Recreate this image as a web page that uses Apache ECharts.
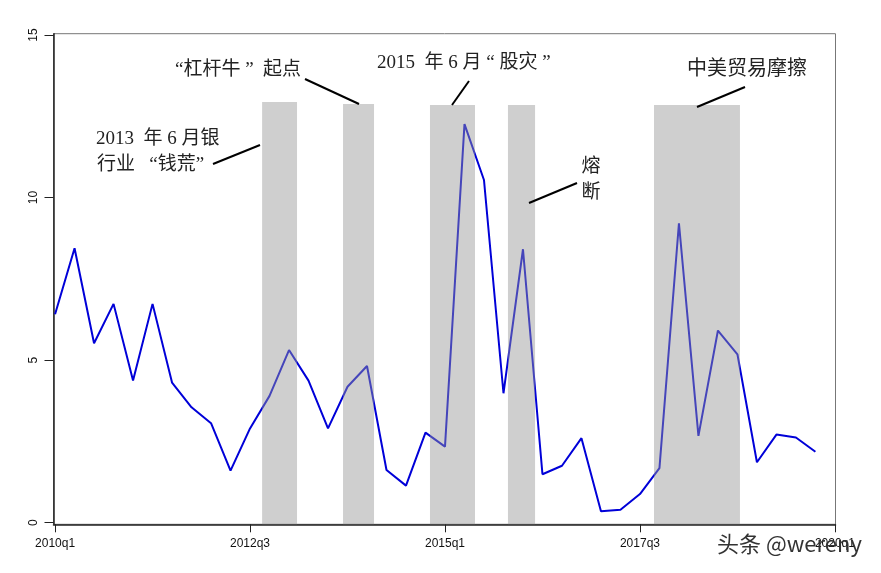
<!DOCTYPE html>
<html>
<head>
<meta charset="utf-8">
<script src="https://cdn.jsdelivr.net/npm/echarts@6/dist/echarts.min.js"></script>
<style>
html, body { margin: 0; padding: 0; background: #fff; }
#chart { width: 881px; height: 573px; }
</style>
</head>
<body>
<div id="chart"></div>
<script>
// quarters counted from 2010q1
var xTicks = [0, 10, 20, 30, 40]
var xTickLabels = ['2010q1', '2012q3', '2015q1', '2017q3', '2020q1']
var yTicks = [0, 5, 10, 15]

var values = [6.41, 8.44, 5.52, 6.73, 4.37, 6.73, 4.31, 3.55, 3.06, 1.6,
  2.9, 3.9, 5.31, 4.37, 2.9, 4.18, 4.82, 1.62, 1.14, 2.77,
  2.34, 12.26, 10.54, 3.98, 8.41, 1.49, 1.75, 2.6, 0.35, 0.4,
  0.88, 1.68, 9.21, 2.67, 5.91, 5.18, 1.86, 2.71, 2.62, 2.18]

// grey event bands, in quarters
var bandStart = [10.62, 14.77, 19.23, 23.23, 30.72]
var bandEnd = [12.41, 16.36, 21.54, 24.62, 35.13]
var bandTop = [12.94, 12.88, 12.85, 12.85, 12.85]

var serif = '"Liberation Serif", "Noto Sans CJK SC", serif'
var sans = '"Liberation Sans", Arial, sans-serif'

function note(text, x, y, size, align) {
  return {
    type: 'text', z: 20, x: x, y: y,
    style: { text: text, fill: '#222', font: (size || 19) + 'px ' + serif, align: align || 'left', verticalAlign: 'middle' }
  }
}
function leader(x1, y1, x2, y2) {
  return {
    type: 'line', z: 20,
    shape: { x1: x1, y1: y1, x2: x2, y2: y2 },
    style: { stroke: '#000', lineWidth: 2 }
  }
}

var chart = echarts.init(document.getElementById('chart'))
chart.setOption({
  animation: false,
  backgroundColor: '#fff',
  grid: {
    left: 53.5, right: 45.5, top: 33.7, bottom: 48.7,
    show: true, borderColor: '#777', borderWidth: 1, backgroundColor: 'transparent'
  },
  xAxis: {
    type: 'value', min: -0.08, max: 40.03,
    splitLine: { show: false },
    axisLine: { show: true, onZero: false, lineStyle: { color: '#222', width: 1.5 } },
    axisTick: { show: true, customValues: xTicks, length: 8, lineStyle: { color: '#222', width: 1 } },
    axisLabel: {
      customValues: xTicks, margin: 13, color: '#111', fontFamily: sans, fontSize: 12,
      formatter: function (v) { return xTickLabels[xTicks.indexOf(v)] }
    }
  },
  yAxis: {
    type: 'value', min: -0.05, max: 15.04,
    splitLine: { show: false },
    axisLine: { show: true, onZero: false, lineStyle: { color: '#222', width: 1.5 } },
    axisTick: { show: true, customValues: yTicks, length: 9, lineStyle: { color: '#222', width: 1 } },
    axisLabel: { customValues: yTicks, rotate: 90, margin: 14, color: '#111', fontFamily: sans, fontSize: 12 }
  },
  series: [
    {
      type: 'line', z: 2, silent: true, symbol: 'none',
      data: values.map(function (v, i) { return [i, v] }),
      lineStyle: { color: '#0000d8', width: 2, join: 'bevel' }
    },
    {
      // bands sit over the line and wash it out
      type: 'custom', z: 3, silent: true,
      data: bandStart.map(function (s, i) { return [s, bandEnd[i], bandTop[i]] }),
      encode: { x: [0, 1], y: 2 },
      renderItem: function (params, api) {
        var a = api.coord([api.value(0), api.value(2)])
        var b = api.coord([api.value(1), -0.05])
        return {
          type: 'rect',
          shape: { x: a[0], y: a[1], width: b[0] - a[0], height: b[1] - a[1] },
          style: { fill: 'rgba(150,150,150,0.46)' }
        }
      }
    }
  ],
  graphic: [
    note('“杠杆牛 ”  起点', 175, 70),
    note('2015  年 6 月 “ 股灾 ”', 377, 63),
    note('2013  年 6 月银', 96, 139),
    note('行业   “钱荒”', 97, 165.5),
    note('中美贸易摩擦', 747, 70, 20, 'center'),
    note('熔', 591, 167, 19, 'center'),
    note('断', 591, 193, 19, 'center'),
    leader(305, 79, 359, 104),
    leader(469, 81, 452, 105),
    leader(213, 164, 260, 145),
    leader(745, 87, 697, 107),
    leader(577, 183, 529, 203),
    {
      type: 'text', z: 30, x: 717, y: 544,
      style: { text: '头条 @wereny', fill: '#333', font: '22px "Noto Sans CJK SC", sans-serif', verticalAlign: 'middle' }
    }
  ]
})
</script>
</body>
</html>
